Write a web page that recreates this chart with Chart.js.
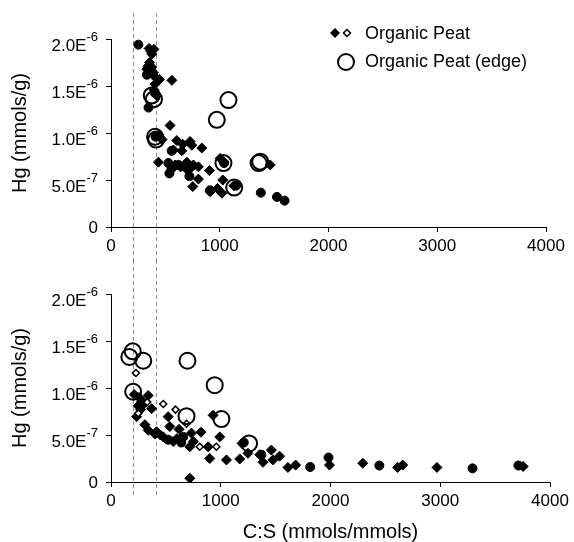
<!DOCTYPE html>
<html>
<head>
<meta charset="utf-8">
<script src="https://cdn.jsdelivr.net/npm/chart.js@4.4.1/dist/chart.umd.min.js"></script>
<style>
  body { margin: 0; background: #fff; }
  #wrap { position: relative; width: 574px; height: 542px; }
  canvas { position: absolute; left: 0; }
  #graficoTopo { top: 0; }
  #graficoBase { top: 260px; }
</style>
</head>
<body>
<div id="wrap">
  <canvas id="graficoTopo" width="574" height="260"></canvas>
  <canvas id="graficoBase" width="574" height="282"></canvas>
</div>
<script>
// Hg em unidades de 1E-7 mmols/g, C:S em mmols/mmols
const xTicks = [0, 1000, 2000, 3000, 4000];
const yTickBase = ['0', '5.0E', '1.0E', '1.5E', '2.0E'];
const yTickExp = ['', '-7', '-6', '-6', '-6'];
const cortes = [200, 410];

// painel de cima
const topoDiamX = [350, 395, 375, 365, 340, 375, 330, 390, 445, 560, 405, 395, 420, 400, 355,
  543, 605, 660, 727, 743, 835, 651, 574, 436, 697, 758, 804, 727, 905, 804, 752, 912, 979,
  1028, 1020, 1004, 1464, 590, 640, 700, 560, 470, 440, 1040, 1130];
const topoDiamY = [19.0, 18.9, 18.4, 18.7, 17.1, 17.0, 16.8, 16.4, 15.7, 15.6, 15.2, 14.6, 14.0, 16.0, 17.5,
  10.8, 9.2, 8.8, 9.1, 8.7, 8.4, 8.1, 8.2, 6.9, 6.9, 6.6, 6.4, 6.2, 6.0, 5.1, 4.3, 3.75, 4.1,
  5.0, 3.6, 7.3, 6.6, 6.6, 6.4, 6.1, 6.2, 9.3, 9.8, 6.9, 4.4];
const topoBolaX = [252, 345, 330, 558, 528, 537, 560, 721, 1378, 1526, 1596, 400, 410, 1040, 1150, 910, 620];
const topoBolaY = [19.4, 12.7, 16.2, 8.1, 6.8, 5.7, 6.3, 5.4, 3.65, 3.2, 2.8, 14.3, 9.6, 6.8, 4.4, 3.9, 6.6];
const topoBordaX = [375, 395, 973, 1080, 405, 415, 1034, 1357, 1372, 1133];
const topoBordaY = [14.0, 13.6, 11.4, 13.5, 9.6, 9.3, 6.8, 6.8, 6.95, 4.2];

// painel de baixo
const baseDiamX = [212, 255, 339, 248, 370, 233, 309, 339, 415, 476, 536, 521, 567, 733, 750, 718, 885,
  900, 930, 991, 1052, 1173, 1194, 1248, 1385, 1461, 1475, 1536, 1612, 1682, 1991, 2294, 2612, 2658,
  2970, 3755, 718, 280, 400, 600, 620, 820, 450, 270, 1355];
const baseDiamY = [9.3, 9.0, 9.2, 8.1, 7.8, 6.95, 6.1, 5.5, 5.35, 4.8, 5.9, 6.95, 4.3, 5.2, 4.3, 3.75, 3.75,
  2.5, 7.1, 4.8, 2.35, 2.45, 4.1, 3.05, 2.1, 3.4, 2.35, 2.75, 1.55, 1.8, 1.8, 2.0, 1.55, 1.8,
  1.55, 1.65, 0.4, 8.6, 5.1, 4.6, 5.6, 5.3, 5.0, 7.7, 2.9];
const baseVazioX = [227, 476, 588, 809, 960, 688, 248, 330];
const baseVazioY = [11.6, 8.3, 7.7, 3.75, 3.75, 6.2, 7.3, 8.5];
const baseBolaX = [658, 1370, 1815, 1982, 2445, 3294, 3712, 520, 640, 300, 1210];
const baseBolaY = [4.8, 2.9, 1.6, 2.6, 1.75, 1.45, 1.75, 4.5, 4.2, 8.4, 4.2];
const baseBordaX = [167, 198, 294, 697, 945, 202, 688, 1006, 1258];
const baseBordaY = [13.3, 13.9, 12.9, 12.9, 10.3, 9.6, 7.0, 6.7, 4.1];

const fonte = "'Liberation Sans', Arial, Helvetica, sans-serif";

function pontos(xs, ys) {
    return xs.map((x, i) => ({ x: x, y: ys[i] }));
}

function serieBorda(xs, ys) {
    return { label: 'Organic Peat (edge)', data: pontos(xs, ys), pointStyle: 'circle', pointRadius: 8,
        backgroundColor: 'rgba(0,0,0,0)', borderColor: '#000', borderWidth: 2 };
}
function serieDiam(xs, ys) {
    return { label: 'Organic Peat', data: pontos(xs, ys), pointStyle: 'rectRot', pointRadius: 5,
        backgroundColor: '#000', borderColor: '#000', borderWidth: 1 };
}
function serieVazio(xs, ys) {
    return { label: 'Organic Peat open', data: pontos(xs, ys), pointStyle: 'rectRot', pointRadius: 3.5,
        backgroundColor: '#fff', borderColor: '#000', borderWidth: 1.5 };
}
function serieBola(xs, ys) {
    return { label: 'dots', data: pontos(xs, ys), pointStyle: 'circle', pointRadius: 4.5,
        backgroundColor: '#000', borderColor: '#000', borderWidth: 1 };
}

// linhas tracejadas verticais
const linhasCorte = {
    id: 'linhasCorte',
    beforeDatasetsDraw(chart, args, opts) {
        const ctx = chart.ctx;
        const x = chart.scales.x;
        ctx.save();
        ctx.strokeStyle = '#8c8c8c';
        ctx.lineWidth = 1;
        ctx.setLineDash([4, 3]);
        cortes.forEach(v => {
            const px = Math.round(x.getPixelForValue(v)) + 0.5;
            ctx.beginPath();
            ctx.moveTo(px, opts.y0);
            ctx.lineTo(px, opts.y1);
            ctx.stroke();
        });
        ctx.restore();
    }
};

// rotulos do eixo y com expoente sobrescrito
const rotulosY = {
    id: 'rotulosY',
    afterDraw(chart) {
        const ctx = chart.ctx;
        const y = chart.scales.y;
        const direita = 98;
        ctx.save();
        ctx.fillStyle = '#000';
        ctx.textAlign = 'right';
        ctx.textBaseline = 'alphabetic';
        y.ticks.forEach((t, i) => {
            const py = y.getPixelForValue(t.value);
            const exp = yTickExp[i];
            ctx.font = '13px ' + fonte;
            const wExp = exp ? ctx.measureText(exp).width : 0;
            if (exp) ctx.fillText(exp, direita, py + 2);
            ctx.font = '17px ' + fonte;
            ctx.fillText(yTickBase[i], direita - wExp, exp ? py + 12 : py + 6);
        });
        ctx.restore();
    }
};

// legenda desenhada a mao (dois marcadores na primeira linha)
const legendaPeat = {
    id: 'legendaPeat',
    afterDraw(chart) {
        const ctx = chart.ctx;
        ctx.save();
        ctx.fillStyle = '#000';
        ctx.strokeStyle = '#000';
        // losango cheio
        ctx.beginPath();
        ctx.moveTo(330, 33); ctx.lineTo(335, 28); ctx.lineTo(340, 33); ctx.lineTo(335, 38); ctx.closePath();
        ctx.fill();
        // losango vazio
        ctx.lineWidth = 1.5;
        ctx.fillStyle = '#fff';
        ctx.beginPath();
        ctx.moveTo(343.5, 33); ctx.lineTo(347, 29.5); ctx.lineTo(350.5, 33); ctx.lineTo(347, 36.5); ctx.closePath();
        ctx.fill(); ctx.stroke();
        // circulo
        ctx.lineWidth = 2;
        ctx.beginPath();
        ctx.arc(346, 62, 8, 0, Math.PI * 2);
        ctx.stroke();
        ctx.fillStyle = '#000';
        ctx.font = '18px ' + fonte;
        ctx.textBaseline = 'middle';
        ctx.fillText('Organic Peat', 365, 34);
        ctx.fillText('Organic Peat (edge)', 365, 62);
        ctx.restore();
    }
};

function opcoes(alturaX, padTopo, padDir, tituloX, y0, y1) {
    return {
        responsive: false,
        animation: false,
        layout: { padding: { top: padTopo, right: padDir, left: 0, bottom: 0 } },
        plugins: {
            legend: { display: false },
            tooltip: { enabled: false },
            linhasCorte: { y0: y0, y1: y1 }
        },
        scales: {
            x: {
                type: 'linear', min: 0, max: 4000,
                afterBuildTicks: s => { s.ticks = xTicks.map(v => ({ value: v })); },
                afterFit: s => { s.height = alturaX; },
                ticks: { color: '#000', font: { family: fonte, size: 17 }, padding: 4,
                    callback: v => String(v) },
                grid: { drawOnChartArea: false, tickLength: 5, color: '#000' },
                border: { color: '#000', width: 1 },
                title: { display: tituloX, text: 'C:S (mmols/mmols)', color: '#000',
                    font: { family: fonte, size: 20, lineHeight: 1 }, padding: { top: 4, bottom: 0 } }
            },
            y: {
                min: 0, max: 20,
                ticks: { stepSize: 5, color: 'rgba(0,0,0,0)', font: { family: fonte, size: 17 }, padding: 3,
                    callback: (v, i) => yTickBase[i] + yTickExp[i] },
                afterFit: s => { s.width = 111; },
                grid: { drawOnChartArea: false, tickLength: 5, color: '#000' },
                border: { color: '#000', width: 1 },
                title: { display: true, text: 'Hg (mmols/g)', color: '#000',
                    font: { family: fonte, size: 20 }, padding: { top: 8, bottom: 0 } }
            }
        }
    };
}

function graficoTopo() {
    const ctx = document.getElementById('graficoTopo');
    new Chart(ctx, {
        type: 'scatter',
        data: {
            datasets: [
                serieBorda(topoBordaX, topoBordaY),
                serieDiam(topoDiamX, topoDiamY),
                serieBola(topoBolaX, topoBolaY)
            ]
        },
        options: opcoes(33, 39, 28, false, 13, 260),
        plugins: [linhasCorte, rotulosY, legendaPeat]
    });
}

function graficoBase() {
    const ctx = document.getElementById('graficoBase');
    new Chart(ctx, {
        type: 'scatter',
        data: {
            datasets: [
                serieBorda(baseBordaX, baseBordaY),
                serieVazio(baseVazioX, baseVazioY),
                serieDiam(baseDiamX, baseDiamY),
                serieBola(baseBolaX, baseBolaY)
            ]
        },
        options: opcoes(60, 34, 24, true, 0, 235),
        plugins: [linhasCorte, rotulosY]
    });
}

graficoTopo();

graficoBase();
</script>
</body>
</html>
